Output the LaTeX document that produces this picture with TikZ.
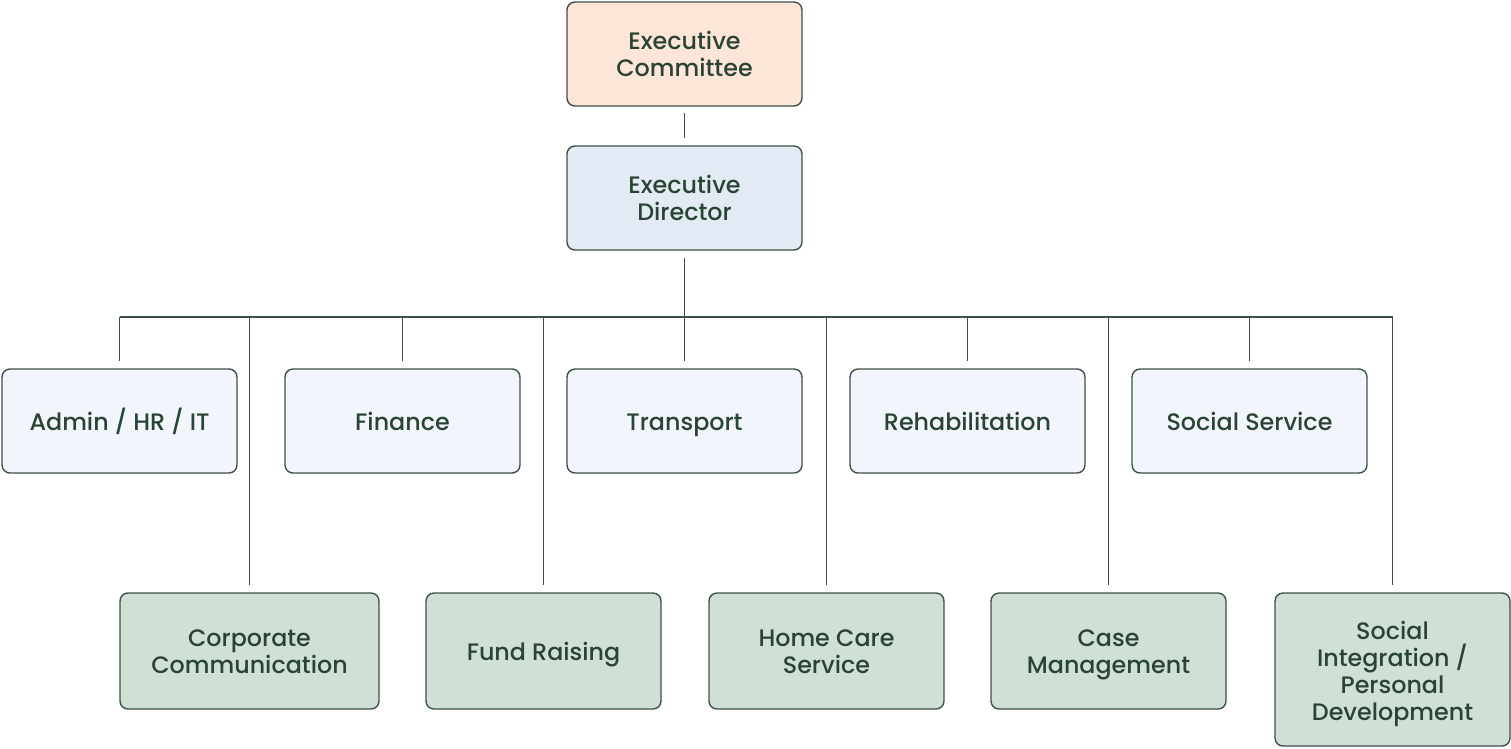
\documentclass[tikz,border=0pt]{standalone}
\usepackage{fontspec}
\setmainfont{Poppins Medium}
\definecolor{edge}{HTML}{3E5146}
\definecolor{txt}{HTML}{2A4434}
\definecolor{peach}{HTML}{FDE5D7}
\definecolor{lblue}{HTML}{E3EAF3}
\definecolor{pale}{HTML}{F2F6FC}
\definecolor{sage}{HTML}{D0E0D5}
\begin{document}
\begin{tikzpicture}[x=1pt,y=-1pt,
  box/.style={draw=edge,line width=1.4pt,rounded corners=8pt,text=txt,
    align=center,inner sep=0pt,minimum width=235pt,minimum height=104pt,
    font=\fontsize{23.8}{27}\selectfont,text height=23.5pt,text depth=4.5pt},
  two/.style={text height=48.5pt},
  four/.style={text height=106.5pt},
  conn/.style={draw=edge,line width=1.4pt}]
\useasboundingbox (0,0) rectangle (1511,748);
\node[box,two,fill=peach] (ec) at (684.5,54) {Executive\\Committee};
\node[box,two,fill=lblue] (ed) at (684.5,198) {Executive\\Director};
\node[box,fill=pale] (adm) at (119.5,421) {Admin / HR / IT};
\node[box,fill=pale] (fin) at (402.5,421) {Finance};
\node[box,fill=pale] (tra) at (684.5,421) {Transport};
\node[box,fill=pale] (reh) at (967.5,421) {Rehabilitation};
\node[box,fill=pale] (soc) at (1249.5,421) {Social Service};
\node[box,two,fill=sage,minimum width=259pt,minimum height=116pt] (cor) at (249.5,651) {Corporate\\Communication};
\node[box,fill=sage,minimum height=116pt] (fun) at (543.5,651) {Fund Raising};
\node[box,two,fill=sage,minimum height=116pt] (hom) at (826.5,651) {Home Care\\Service};
\node[box,two,fill=sage,minimum height=116pt] (cas) at (1108.5,651) {Case\\Management};
\node[box,four,fill=sage,minimum height=153pt] (sin) at (1392.5,669.5) {Social\\Integration /\\Personal\\Development};
\coordinate (busL) at (119.5,317);
\coordinate (busR) at (1392.5,317);
\draw[conn] ([yshift=-6pt]ec.south) -- ([yshift=7pt]ed.north);
\draw[conn] ([yshift=-7pt]ed.south) -- (ed.south |- busL);
\draw[conn] (busL) -- (busR);
\foreach \n in {adm,fin,tra,reh,soc,cor,fun,hom,cas,sin}
  \draw[conn] (\n.north |- busL) -- ([yshift=7pt]\n.north);
\end{tikzpicture}
\end{document}
